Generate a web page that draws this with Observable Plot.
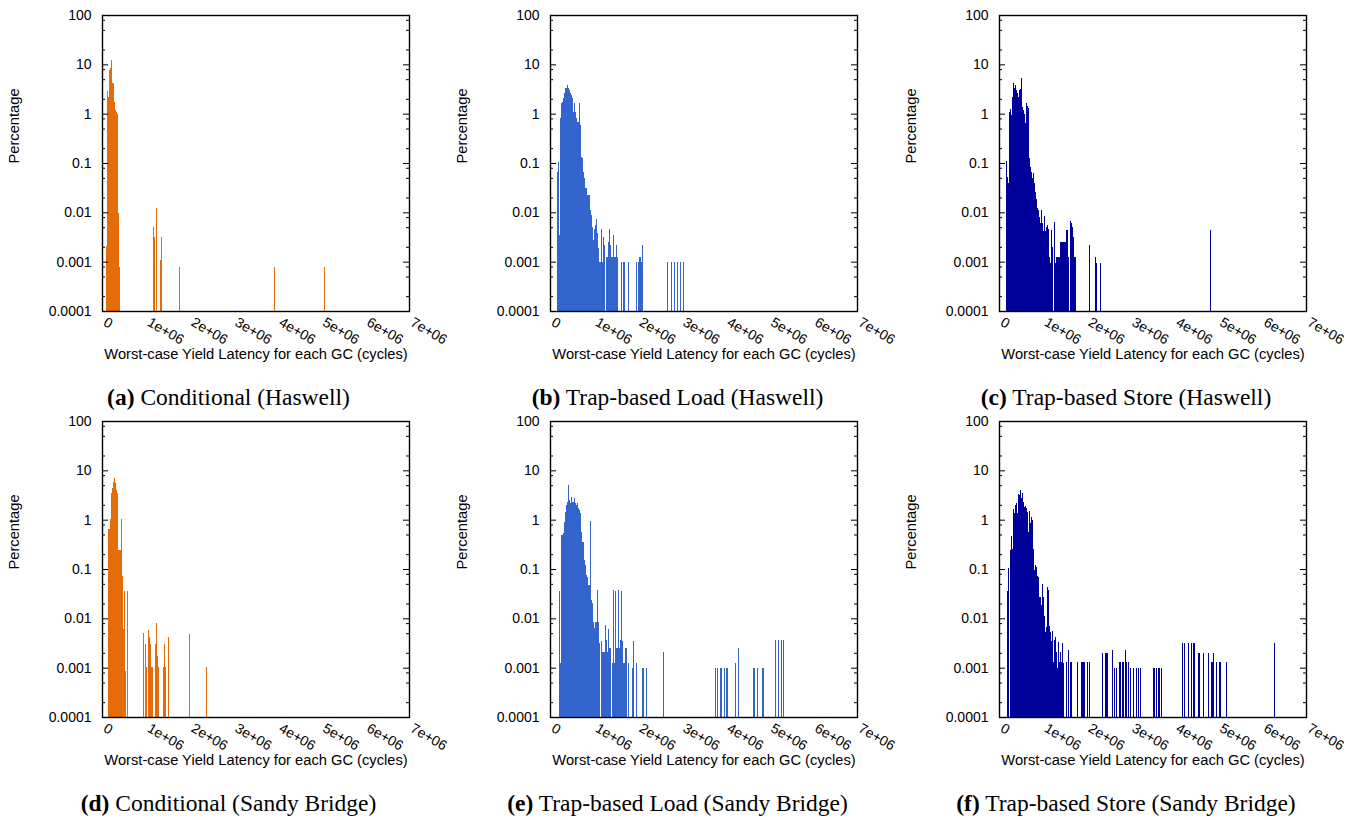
<!DOCTYPE html>
<html><head><meta charset="utf-8">
<script src="https://cdn.jsdelivr.net/npm/d3@7"></script>
<script src="https://cdn.jsdelivr.net/npm/@observablehq/plot@0.6"></script>
<style>
body{margin:0;background:#fff;width:1364px;height:820px;position:relative;overflow:hidden;font-family:"Liberation Sans",Arial,Helvetica,sans-serif}
.panel{position:absolute;width:450px}
.panel svg{overflow:visible}
.cap{position:absolute;font-family:"Liberation Serif","Times New Roman",serif;font-size:23.5px;line-height:26px;color:#000;white-space:nowrap;transform:translateX(-50%)}
</style></head><body>
<script>
// ---- tick labels / titles ----
const xTickValues = [0, 1e6, 2e6, 3e6, 4e6, 5e6, 6e6, 7e6];
const xTickLabels = ["0", "1e+06", "2e+06", "3e+06", "4e+06", "5e+06", "6e+06", "7e+06"];
const yTickValues = [1e-4, 1e-3, 1e-2, 1e-1, 1, 10, 100];
const yTickLabels = ["0.0001", "0.001", "0.01", "0.1", "1", "10", "100"];
const yMinorTicks = [2e-4,5e-4,8e-4,2e-3,5e-3,8e-3,2e-2,5e-2,8e-2,0.2,0.5,0.8,2,5,8,20,50,80];
const xTitle = "Worst-case Yield Latency for each GC (cycles)";
const yTitle = "Percentage";
const panelLetters = ["a", "b", "c", "d", "e", "f"];
const panelTitles = ["Conditional (Haswell)", "Trap-based Load (Haswell)", "Trap-based Store (Haswell)",
  "Conditional (Sandy Bridge)", "Trap-based Load (Sandy Bridge)", "Trap-based Store (Sandy Bridge)"];

// ---- data: bin centre (thousands of cycles) and percentage ----
const condHaswellX = [100,125,150,175,200,225,250,275,300,325,350,375,400,1174,1197,1243,1334,1357,1767,3930,5070];
const condHaswellY = [0.0021,2.88,2.15,7.7,8.3,12.2,4.25,1.73,1.19,1.08,0.99,0.0098,0.00078,0.005,0.0031,0.0122,0.00108,0.0031,0.00078,0.00078,0.00078];

const loadHaswellX = [164,189,214,239,264,289,314,339,364,389,414,439,464,489,514,539,564,589,614,639,664,689,714,739,764,789,814,839,864,889,914,939,964,989,1014,1039,1064,1089,1114,1139,1164,1189,1214,1239,
  1289,1314,1339,1364,1389,1414,1439,1464,1489,1514,1539,
  1630,1676,1699,1782,1972,2018,2041,2063,2086,2109,
  2672,2770,2839,2907,2975,3044];
const loadHaswellY = [0.067,0.103,0.0035,0.80,1.62,1.75,2.05,2.59,3.27,3.81,3.27,3.02,2.59,2.39,2.05,1.10,1.62,1.10,0.80,0.69,1.62,0.59,0.134,0.124,0.067,0.049,0.031,0.031,0.0225,0.0225,0.011,0.0088,0.0051,0.0027,0.0045,0.0055,0.0072,0.0038,0.0019,0.001,0.0047,0.001,0.0032,0.0022,
  0.00126,0.00126,0.0025,0.0045,0.0022,0.00126,0.0035,0.00126,0.00126,0.0022,0.00126,
  0.001,0.001,0.001,0.001,0.001,0.001,0.00126,0.00126,0.001,0.0022,
  0.001,0.001,0.001,0.001,0.001,0.001];

const storeHaswellX = [171,194,217,239,262,285,308,331,353,376,399,422,445,467,490,513,536,559,581,604,627,650,673,696,718,741,764,787,810,832,855,878,901,924,946,969,992,1015,1038,1060,1083,1106,1129,1152,1174,1197,1220,
  1266,1288,1311,1334,1357,1380,1402,1425,1448,1471,1494,1516,1539,1562,1585,
  1630,1653,1676,1699,1722,1744,
  2056,2200,2223,2314,4830];
const storeHaswellY = [0.11,0.053,0.040,1.06,1.22,0.94,2.21,4.12,3.27,3.81,3.02,2.59,2.15,3.02,3.1,5.2,1.39,1.19,0.98,0.64,1.62,1.43,1.32,0.124,0.084,0.067,0.049,0.062,0.039,0.026,0.019,0.012,0.011,0.0082,0.006,0.011,0.006,0.0041,0.0085,0.0041,0.0051,0.0055,0.0047,0.00126,0.00096,0.0044,0.002,
  0.0065,0.00095,0.00126,0.00126,0.00126,0.00126,0.0025,0.0025,0.0025,0.0025,0.0025,0.0025,0.0044,0.0044,0.00126,
  0.0066,0.006,0.0051,0.0032,0.00126,0.00126,
  0.0022,0.00126,0.00096,0.00095,0.0044];

const condSandyX = [141,164,186,209,232,255,278,300,323,346,369,391,414,444,459,482,505,520,535,581,
  946,992,1015,1060,1083,1106,1129,1151,1220,1243,1265,1288,1402,1425,1448,1516,1995,2383];
const condSandyY = [0.64,0.64,1.02,3.42,4.33,5.9,6.9,5.5,3.98,3.42,0.24,0.24,0.24,1.02,0.073,0.006,0.006,0.035,0.00085,0.035,
  0.0051,0.003,0.00105,0.0058,0.0041,0.003,0.00105,0.00105,0.003,0.0082,0.0017,0.00105,0.00105,0.003,0.00105,0.0041,0.0048,0.00105];

const loadSandyX = [217,239,262,285,308,331,353,376,399,422,445,467,490,513,536,559,581,604,627,650,673,696,718,741,764,787,810,832,855,878,901,924,946,969,992,1015,1038,1060,1083,1106,1129,
  1174,1197,1220,1243,1266,1288,1311,1334,1357,1380,
  1425,1448,1471,1494,1516,1539,1562,1585,1608,1630,1653,1676,1699,1722,1744,
  1790,1881,1904,1972,2109,2132,2200,2588,
  3774,3820,3890,3910,3980,4020,4050,4230,4300,4640,4660,4730,4850,4870,5140,5210,5280,5320];
const loadSandyY = [0.036,0.00126,0.49,0.49,0.53,0.91,1.45,1.98,2.32,5.05,2.5,2.15,2.93,2.3,2.32,2.7,2.15,1.98,2.15,1.7,1.57,1.35,0.55,0.36,0.36,0.152,0.12,0.076,0.068,0.047,0.047,0.95,0.0236,0.0208,0.0086,0.0065,0.0086,0.0084,0.038,0.0086,0.0032,
  0.0035,0.0021,0.0021,0.0021,0.0073,0.0037,0.0021,0.006,0.0025,0.0025,
  0.00126,0.037,0.00126,0.036,0.0025,0.0025,0.037,0.0025,0.0037,0.036,0.0035,0.00126,0.00126,0.0025,0.0025,
  0.00126,0.00097,0.0035,0.00126,0.00097,0.00097,0.00097,0.0021,
  0.00098,0.00098,0.00098,0.00098,0.00098,0.00098,0.00098,0.00124,0.0025,0.00098,0.00098,0.00098,0.00098,0.00098,0.0036,0.0036,0.0036,0.0036];

const storeSandyX = [194,217,262,285,308,331,353,376,399,422,445,467,490,513,536,559,581,604,627,650,673,696,718,741,764,787,810,832,855,878,901,924,946,969,992,1015,1038,1060,1083,1106,1129,1152,1174,1197,1220,1243,1266,1288,1311,1334,1357,1380,1402,1425,1448,1471,
  1539,1585,1630,1653,1790,1881,1904,1927,1950,2018,2063,
  2360,2428,2451,2474,2588,2633,2679,2747,2770,2816,2839,2884,2907,2953,2998,3067,3135,3181,3226,3523,3546,3591,3637,3660,3705,
  4184,4230,4321,4389,4435,4458,4549,4572,4663,4777,4845,4868,4891,4959,5028,5050,5187,6282];
const storeSandyY = [0.036,0.103,0.243,0.47,0.25,1.62,1.35,1.98,2.15,1.35,3.31,3.16,4.0,2.71,3.4,2.32,1.84,1.9,1.7,1.45,0.57,1.48,0.87,1.15,1.0,0.25,0.095,0.12,0.11,0.072,0.07,0.0275,0.0275,0.0186,0.049,0.0275,0.0113,0.0054,0.0068,0.044,0.037,0.007,0.0054,0.0034,0.0056,0.0013,0.0037,0.0042,0.0021,0.00097,0.0033,0.0013,0.0021,0.0013,0.0032,0.00125,
  0.0013,0.0023,0.0013,0.0013,0.0013,0.0013,0.0013,0.0013,0.0013,0.0013,0.0013,
  0.0020,0.0020,0.0020,0.0020,0.0023,0.00098,0.00098,0.0013,0.0013,0.0013,0.0013,0.0023,0.0013,0.0013,0.00098,0.00098,0.00098,0.00098,0.00098,0.00098,0.00098,0.00098,0.00098,0.00098,0.00098,
  0.0032,0.0032,0.0032,0.0032,0.0032,0.0032,0.0020,0.0020,0.0020,0.0020,0.0013,0.0013,0.0020,0.0013,0.0013,0.0013,0.0013,0.0032];

const panelXs = [condHaswellX, loadHaswellX, storeHaswellX, condSandyX, loadSandyX, storeSandyX];
const panelYs = [condHaswellY, loadHaswellY, storeHaswellY, condSandyY, loadSandyY, storeSandyY];
const panelColors = ["#e46c0a", "#3465cc", "#00009a", "#e46c0a", "#3465cc", "#00009a"];

// ---- layout ----
const W = 450, ML = 102, MR = 41, MT = 15, MB = 60, FH = 296;
const frameW = W - ML - MR;
const xMax = 7e6;
const binW = 25000;
const tickMajor = 6 * xMax / frameW;
const tickMinor = 3 * xMax / frameW;
const colLeft = [0, 448, 897];
const rowTop = [0, 406];
const capCenter = [228.5, 677.5, 1126];
const capTop = [384, 790];

panelXs.forEach((xs, i) => {
  const col = i % 3, row = Math.floor(i / 3);
  const rows = xs.map((x, j) => ({x: x * 1000, y: panelYs[i][j]}));
  const chart = Plot.plot({
    width: W, height: MT + FH + MB,
    marginLeft: ML, marginRight: MR, marginTop: MT, marginBottom: MB,
    style: {fontFamily: "'Liberation Sans', Arial, Helvetica, sans-serif", fontSize: "14px", background: "none", overflow: "visible", color: "#000"},
    x: {domain: [0, xMax], axis: null},
    y: {type: "log", domain: [1e-4, 100], axis: null},
    marks: [
      Plot.rect(rows, {x1: d => d.x - binW / 2, x2: d => d.x + binW / 2, y1: 1e-4, y2: "y", fill: panelColors[i], shapeRendering: "crispEdges"}),
      Plot.ruleY(yTickValues, {y: d => d, x1: 0, x2: tickMajor, stroke: "#000", strokeWidth: 1}),
      Plot.ruleY(yTickValues, {y: d => d, x1: xMax - tickMajor, x2: xMax, stroke: "#000", strokeWidth: 1}),
      Plot.ruleY(yMinorTicks, {y: d => d, x1: 0, x2: tickMinor, stroke: "#000", strokeWidth: 1}),
      Plot.ruleY(yMinorTicks, {y: d => d, x1: xMax - tickMinor, x2: xMax, stroke: "#000", strokeWidth: 1}),
      Plot.frame({stroke: "#000", strokeWidth: 1.4}),
      Plot.text(yTickValues, {y: d => d, frameAnchor: "left", text: (d, j) => yTickLabels[j], textAnchor: "end", dx: -11, fill: "#000"}),
      Plot.text(xTickValues, {x: d => d, frameAnchor: "bottom", text: (d, j) => xTickLabels[j], rotate: 30, textAnchor: "start", lineAnchor: "top", dx: 5, dy: 5, fill: "#000"}),
      Plot.text([xTitle], {text: d => d, frameAnchor: "bottom", dy: 47, fontSize: 14.7, fill: "#000"}),
      Plot.text([yTitle], {text: d => d, frameAnchor: "left", rotate: -90, dx: -88, fontSize: 14.7, fill: "#000"})
    ]
  });
  const div = document.createElement("div");
  div.className = "panel";
  div.style.left = colLeft[col] + "px";
  div.style.top = rowTop[row] + "px";
  div.append(chart);
  document.body.append(div);

  const cap = document.createElement("div");
  cap.className = "cap";
  cap.style.left = capCenter[col] + "px";
  cap.style.top = capTop[row] + "px";
  const b = document.createElement("b");
  b.textContent = "(" + panelLetters[i] + ")";
  cap.append(b, " " + panelTitles[i]);
  document.body.append(cap);
});
</script>
</body></html>
